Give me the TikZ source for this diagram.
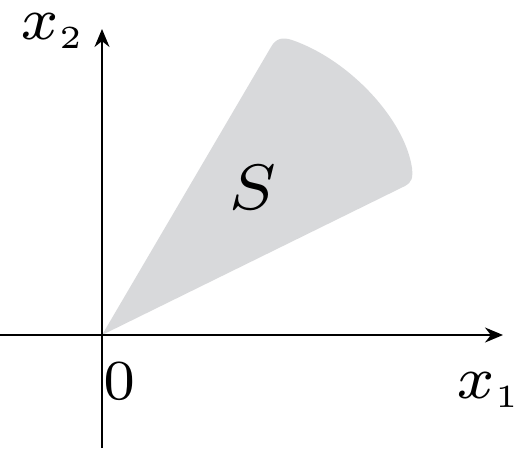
\documentclass[tikz,border=0pt]{standalone}
\usepackage{amsmath,amssymb}
\usetikzlibrary{arrows.meta, positioning, calc}
\definecolor{coneshade}{RGB}{216,217,219}
\newcommand{\smallsub}[1]{\scalebox{0.75}{$\scriptstyle #1$}}

\begin{document}
\begin{tikzpicture}[x=1pt, y=-1pt,
    axis/.style={line width=2pt, -{Stealth[length=18pt, width=15pt]}},
    lbl/.style={inner sep=0pt, font=\scriptsize, scale=8.6}]
  \useasboundingbox (0,0) rectangle (518,448);
  \coordinate (O) at (102,335);
  \coordinate (xs) at (0,335);
  \coordinate (xe) at (503,335);
  \coordinate (ys) at (102,448);
  \coordinate (ye) at (102,29);
  % Cone S
  \fill[coneshade] (O) -- (271,47) .. controls (276,38) and (283,37) .. (292,40)
    .. controls (350,60) and (405,120) .. (412,168)
    .. controls (413,178) and (412,182) .. (405,186) -- cycle;
  % Axes
  \draw[axis] (xs) -- (xe);
  \draw[axis] (ys) -- (ye);
  \node[lbl] (xtwo) at (53,31) {$x_{\smallsub{2}}$};
  \node[lbl] (xone) at (489,390) {$x_{\smallsub{1}}$};
  \node[lbl, scale=0.94] (zero) at (120,381) {$0$};
  \node[lbl, scale=1.07] (S) at (253,187) {$S$};
\end{tikzpicture}
\end{document}
